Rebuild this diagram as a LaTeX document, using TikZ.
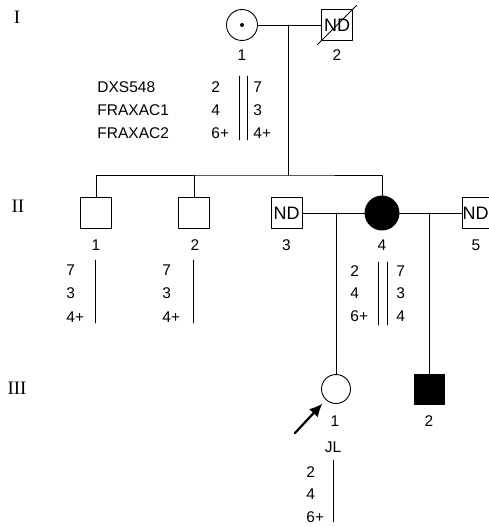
\documentclass[tikz,border=0pt]{standalone}
\usepackage{fontspec}
\setmainfont{Liberation Sans}
\newfontfamily\genfont{Liberation Serif}
\usetikzlibrary{arrows.meta}
\begin{document}
\begin{tikzpicture}[x=1pt,y=-1pt,line cap=round,line join=round,line width=0.9pt,
  every node/.style={font=\fontsize{15.5}{17}\selectfont,inner sep=0pt},
  male/.style={draw,rectangle,minimum size=31pt},
  female/.style={draw,circle,minimum size=31pt},
  affected/.style={fill=black},
  nd/.style={font=\fontsize{18}{18}\selectfont},
  gen/.style={font=\genfont\fontsize{19}{19}\selectfont},
  allele/.style={anchor=west},
  bar/.style={line width=0.8pt},
  proband/.style={line width=2.2pt,-{Latex[length=13pt,width=12pt]},shorten >=5pt}]
  \useasboundingbox (0,0) rectangle (489,527);
  % generations
  \node[gen] (genI) at (17,17) {I};
  \node[gen] (genII) at (18,206) {II};
  \node[gen] (genIII) at (17,388) {III};
  % generation I
  \node[female] (I1) at (242,25) {};
  \fill (I1.center) circle (2pt);
  \node[male,nd] (I2) at (337,25) {ND};
  \draw[shorten <=-5pt,shorten >=-5pt] (I2.south west) -- (I2.north east);
  \node (I1n) at (242,55) {1};
  \node (I2n) at (337,55) {2};
  \draw (I1) -- (I2);
  \coordinate (mI) at (288,25);
  \coordinate (sII) at (288,175);
  \draw (mI) -- (sII);
  % haplotype I-1
  \node[allele] (mk1) at (97,87) {DXS548};
  \node[allele] (mk2) at (97,110) {FRAXAC1};
  \node[allele] (mk3) at (97,133) {FRAXAC2};
  \node[allele] (I1a1) at (211,87) {2};
  \node[allele] (I1a2) at (211,110) {4};
  \node[allele] (I1a3) at (211,133) {6+};
  \node[allele] (I1b1) at (253,87) {7};
  \node[allele] (I1b2) at (253,110) {3};
  \node[allele] (I1b3) at (253,133) {4+};
  \draw[bar] (239,76) -- (239,140);
  \draw[bar] (247,76) -- (247,140);
  % generation II
  \node[male] (II1) at (96,213) {};
  \node[male] (II2) at (194,213) {};
  \node[male,nd] (II3) at (286.5,213) {ND};
  \node[female,affected,minimum size=34pt] (II4) at (382,213) {};
  \node[male] (II5) at (477.5,213) {};
  \node[nd] (II5t) at (475.5,213) {ND};
  \draw (II1) |- (sII) -| (II4);
  \draw (II2) -- (II2 |- sII);
  \draw (II3) -- (II4) -- (II5);
  \node (II1n) at (96,245) {1};
  \node (II2n) at (195,245) {2};
  \node (II3n) at (286.5,245) {3};
  \node (II4n) at (382,245) {4};
  \node (II5n) at (476,245) {5};
  % haplotypes II
  \node[allele] (II1a1) at (66,270) {7};
  \node[allele] (II1a2) at (66,293) {3};
  \node[allele] (II1a3) at (66,317) {4+};
  \draw[bar] (95,260) -- (95,323);
  \node[allele] (II2a1) at (162,270) {7};
  \node[allele] (II2a2) at (162,293) {3};
  \node[allele] (II2a3) at (162,317) {4+};
  \draw[bar] (193,260) -- (193,323);
  \node[allele] (II4a1) at (350,271) {2};
  \node[allele] (II4a2) at (350,293) {4};
  \node[allele] (II4a3) at (350,316) {6+};
  \node[allele] (II4b1) at (396,271) {7};
  \node[allele] (II4b2) at (396,293) {3};
  \node[allele] (II4b3) at (396,316) {4};
  \draw[bar] (378,262) -- (378,325);
  \draw[bar] (387,262) -- (387,325);
  % generation III
  \node[female,minimum size=29pt] (III1) at (336,389) {};
  \node[male,affected,minimum size=30pt] (III2) at (429,389) {};
  \coordinate (mII34) at (336,213);
  \coordinate (mII45) at (429,213);
  \draw (mII34) -- (III1);
  \draw (mII45) -- (III2);
  \node (III1n) at (335,421) {1};
  \node (III2n) at (429,421) {2};
  \node (III1id) at (333,447) {JL};
  \coordinate (arrtail) at (295,433);
  \draw[proband] (arrtail) -- (III1);
  % haplotype III-1
  \node[allele] (III1a1) at (306,472) {2};
  \node[allele] (III1a2) at (306,494) {4};
  \node[allele] (III1a3) at (306,517) {6+};
  \draw[bar] (333,460) -- (333,522);
\end{tikzpicture}
\end{document}
